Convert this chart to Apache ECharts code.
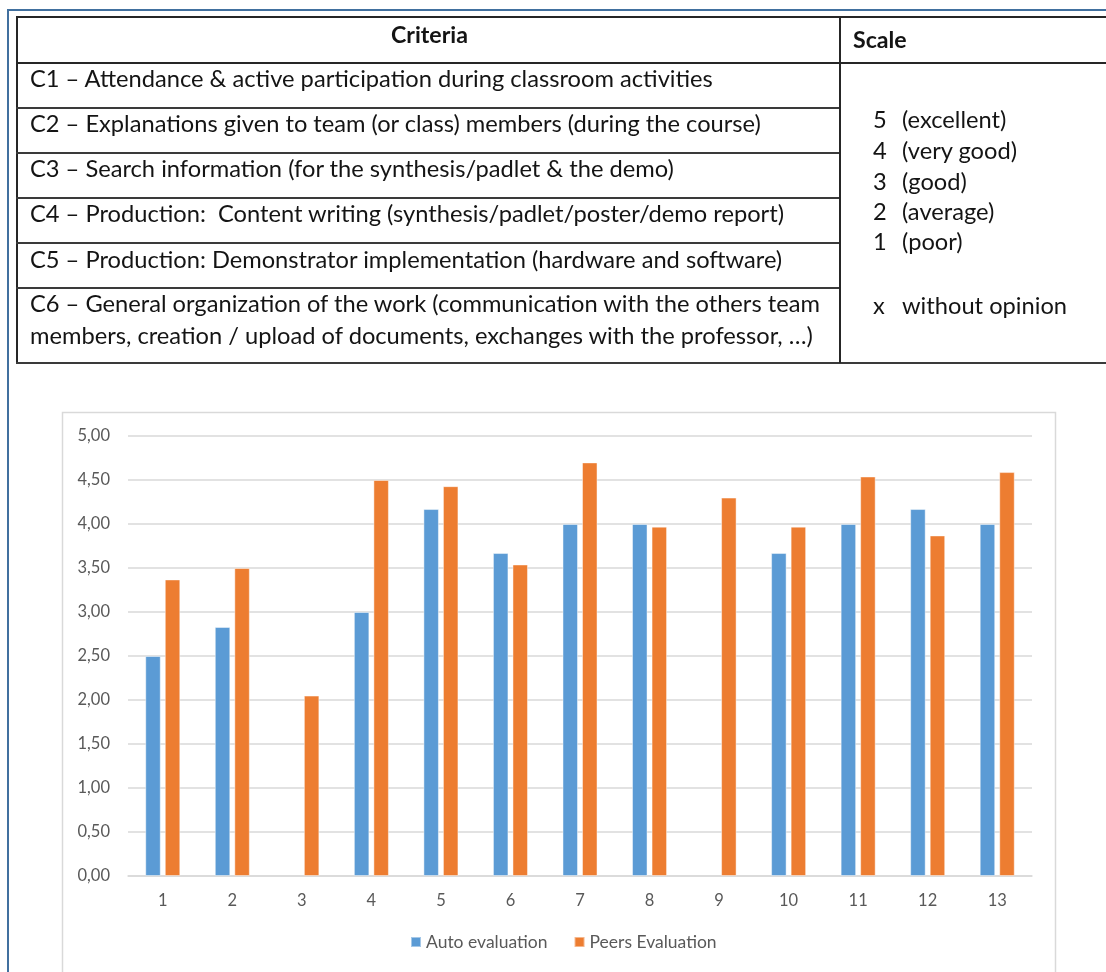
<!DOCTYPE html>
<html>
<head>
<meta charset="utf-8">
<script src="https://cdn.jsdelivr.net/npm/echarts@6/dist/echarts.min.js"></script>
<style>
html,body{margin:0;padding:0;width:1106px;height:972px;overflow:hidden;background:#fff;}
#chart{position:absolute;left:0;top:0;width:1106px;height:972px;}
.ln{position:absolute;background:#262626;}
.tx{position:absolute;white-space:pre;font-family:Lato,'Open Sans',sans-serif;color:#141414;line-height:1;}
</style>
</head>
<body>
<div id="chart"></div>
<div id="table"></div>
<script>
// ---------- data ----------
const categories = ['1','2','3','4','5','6','7','8','9','10','11','12','13'];
const autoEvaluation  = [2.50, 2.83, null, 3.00, 4.17, 3.67, 4.00, 4.00, null, 3.67, 4.00, 4.17, 4.00];
const peersEvaluation = [3.37, 3.50, 2.05, 4.50, 4.43, 3.54, 4.70, 3.97, 4.30, 3.97, 4.54, 3.87, 4.59];
const seriesNames = ['Auto evaluation', 'Peers Evaluation'];
const yMin = 0, yMax = 5, yStep = 0.5;

const headerCriteria = 'Criteria';
const headerScale = 'Scale';
const criteriaLines = [
  ['C1 – Attendance & active participation during classroom activities'],
  ['C2 – Explanations given to team (or class) members (during the course)'],
  ['C3 – Search information (for the synthesis/padlet & the demo)'],
  ['C4 – Production:  Content writing (synthesis/padlet/poster/demo report)'],
  ['C5 – Production: Demonstrator implementation (hardware and software)'],
  ['C6 – General organization of the work (communication with the others team',
   'members, creation / upload of documents, exchanges with the professor, …)']
];
const scaleKeys = ['5', '4', '3', '2', '1', 'x'];
const scaleLabels = ['(excellent)', '(very good)', '(good)', '(average)', '(poor)', 'without opinion'];

// ---------- table (layout) ----------
const tbl = document.getElementById('table');
function line(x, y, w, h, color) {
  const d = document.createElement('div');
  d.className = 'ln';
  d.style.left = x + 'px'; d.style.top = y + 'px';
  d.style.width = w + 'px'; d.style.height = h + 'px';
  if (color) d.style.background = color;
  tbl.appendChild(d);
}
const FAMILY = 'Lato';
const cv = document.createElement('canvas').getContext('2d');
function fit(text, weight, target) {
  cv.font = weight + ' 100px ' + FAMILY;
  return 100 * target / cv.measureText(text).width;
}
function text(str, x, cy, size, weight) {
  const d = document.createElement('div');
  d.className = 'tx';
  d.textContent = str;
  d.style.fontSize = size + 'px';
  d.style.fontWeight = weight;
  d.style.left = x + 'px';
  d.style.top = (cy - size * 0.55) + 'px';
  tbl.appendChild(d);
  return d;
}
// outer blue frame
line(7, 9, 1106, 2, '#41709f');
line(7, 9, 2, 972, '#41709f');
// table grid
line(16, 16, 1106, 2);
line(16, 16, 2, 348);
line(16, 62, 1106, 1.5);
[107, 152, 197, 242, 287].forEach(y => line(16, y, 824, 1.5, '#3a3a3a'));
line(16, 362, 1106, 2, '#3a3a3a');
line(839, 16, 1.5, 347);

const bodySize = fit(criteriaLines[0][0], 'normal', 684);
const headSize = fit(headerCriteria, 'bold', 77);
text(headerCriteria, 391, 36, headSize, 'bold');
text(headerScale, 853, 41, headSize, 'bold');
const rowCy = [[80], [125], [170], [215], [261], [305, 337]];
criteriaLines.forEach((ls, i) => ls.forEach((s, j) => text(s, 30, rowCy[i][j], bodySize, 'normal')));
const scaleCy = [121, 152, 183, 213, 243, 307];
scaleKeys.forEach((k, i) => {
  text(k, 873, scaleCy[i], bodySize, 'normal');
  text(scaleLabels[i], 902, scaleCy[i], bodySize, 'normal');
});

// ---------- chart ----------
const chart = echarts.init(document.getElementById('chart'), null, {renderer: 'canvas'});
const labelColor = '#595959';
const fmt = v => v.toFixed(2).replace('.', ',');
chart.setOption({
  animation: false,
  backgroundColor: 'transparent',
  textStyle: {fontFamily: 'Lato, "Open Sans", sans-serif'},
  graphic: [{
    type: 'rect', silent: true, z: -10,
    shape: {x: 62.5, y: 412.5, width: 993, height: 700},
    style: {fill: '#fff', stroke: '#d9d9d9', lineWidth: 1.5}
  }],
  grid: {left: 128, top: 436, width: 904, height: 440, containLabel: false},
  legend: {
    data: seriesNames,
    left: 410, top: 933, padding: 0,
    icon: 'rect', itemWidth: 10, itemHeight: 10, itemGap: 26,
    textStyle: {color: labelColor, fontSize: 17.5}
  },
  xAxis: {
    type: 'category',
    data: categories,
    axisLine: {lineStyle: {color: '#d9d9d9', width: 1.5}},
    axisTick: {show: false},
    axisLabel: {color: labelColor, fontSize: 16.5, margin: 16}
  },
  yAxis: {
    type: 'value',
    min: yMin, max: yMax, interval: yStep,
    axisLine: {show: false},
    axisTick: {show: false},
    axisLabel: {color: labelColor, fontSize: 16.5, margin: 18, formatter: fmt},
    splitLine: {lineStyle: {color: '#d9d9d9', width: 1.5}}
  },
  series: [
    {
      name: seriesNames[0], type: 'bar', data: autoEvaluation,
      barWidth: 15.5, barGap: '26%',
      itemStyle: {color: '#5b9bd5', borderColor: 'rgba(255,255,255,0.45)', borderWidth: 1}
    },
    {
      name: seriesNames[1], type: 'bar', data: peersEvaluation,
      barWidth: 15.5, barGap: '26%',
      itemStyle: {color: '#ed7d31', borderColor: 'rgba(255,255,255,0.45)', borderWidth: 1}
    }
  ]
});
</script>
</body>
</html>
